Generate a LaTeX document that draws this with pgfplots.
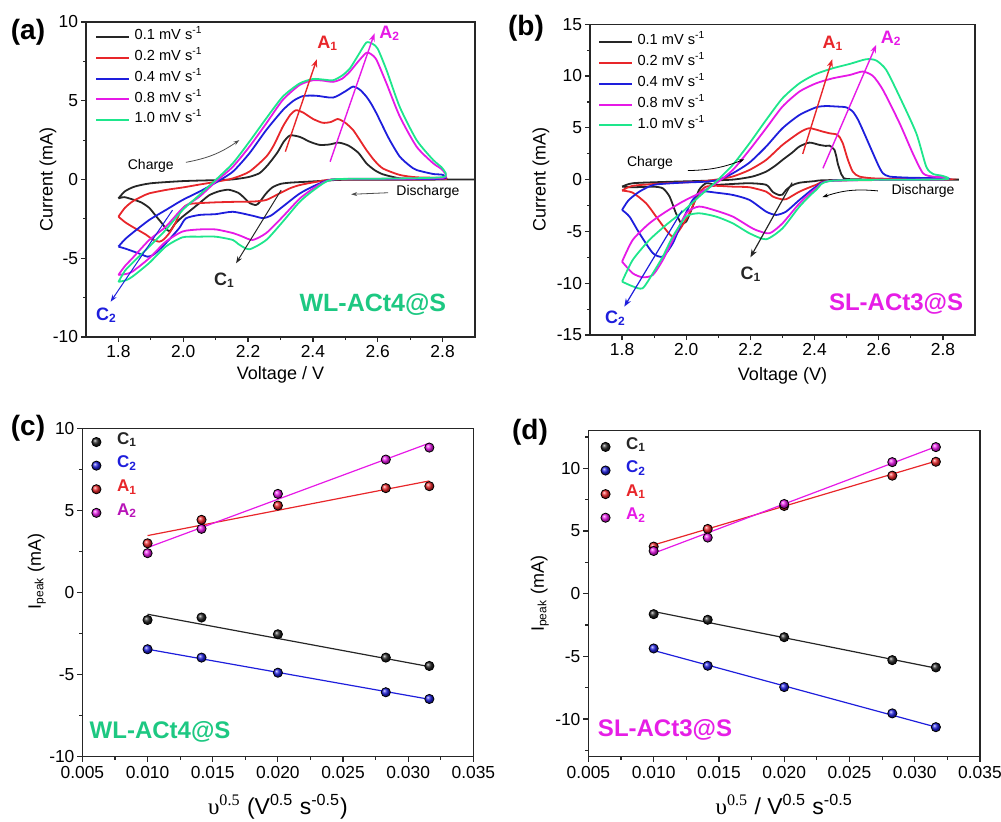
\documentclass[border=0pt]{standalone}
\usepackage{fontspec}
\setmainfont{Liberation Sans}
\newfontfamily\seriffont{Liberation Serif}
\usepackage{pgfplots}
\pgfplotsset{compat=1.18}
\usetikzlibrary{arrows.meta}
\definecolor{cK}{HTML}{262626}
\definecolor{cR}{HTML}{E8262A}
\definecolor{cB}{HTML}{1E1EDC}
\definecolor{cM}{HTML}{E619E6}
\definecolor{cG}{HTML}{1EE68C}
\definecolor{cGT}{HTML}{1DC882}
\definecolor{cMT}{HTML}{E61EE6}
\pgfplotsset{
  panel/.style={
    scale only axis, anchor=south west,
    axis line style={black!85, line width=0.6pt},
    tick align=outside, xtick pos=bottom, ytick pos=left,
    major tick length=2.6pt, minor tick length=1.5pt,
    tick style={black!85, line width=0.6pt},
    minor x tick num=1, minor y tick num=1,
    scaled x ticks=false, scaled y ticks=false,
    tick label style={font=\fontsize{8.7}{10}\selectfont, inner sep=1.2pt},
    label style={font=\fontsize{9}{11}\selectfont},
  },
  cv/.style={smooth, tension=0.4, line width=0.9pt, no markers},
  cvlegend/.style={
    legend style={draw=none, fill=none, inner sep=0pt, anchor=north west,
      font=\fontsize{7.3}{8}\selectfont, row sep=0pt, column sep=2.2pt,
      nodes={inner sep=0pt, text height=6.3pt, text depth=4.1pt}},
    legend cell align=left,
    legend image code/.code={\draw[##1, line width=1pt] (0pt,0.25pt) -- (16.5pt,0.25pt);},
  },
  pklegend/.style={
    legend style={draw=none, fill=none, inner sep=0pt, anchor=north west,
      font=\bfseries\fontsize{8.5}{9}\selectfont, row sep=0pt, column sep=7.8pt,
      nodes={inner sep=0pt, text height=7pt, text depth=4.8pt}},
    legend cell align=left,
    legend image code/.code={\draw[##1] plot coordinates {(0pt,0pt)};},
  },
  pts/.style={only marks, mark=ball, ball color=#1, mark size=2.3pt},
  fit/.style={#1, line width=0.6pt, no markers, forget plot},
}
\begin{document}
\begin{tikzpicture}
\useasboundingbox (0,0) rectangle (500.5pt,410.5pt);
% ---------------- (a)
\begin{axis}[panel, cvlegend, at={(43pt,242pt)}, width=194.5pt, height=157.5pt,
  xmin=1.7, xmax=2.9, ymin=-10, ymax=10,
  xtick={1.8,2.0,2.2,2.4,2.6,2.8}, xticklabels={1.8,2.0,2.2,2.4,2.6,2.8},
  ytick={-10,-5,0,5,10}, yticklabels={-10,-5,0,5,10},
  xlabel={Voltage / V}, ylabel={Current (mA)},
  xlabel shift={0pt}, ylabel shift={-6.5pt},
  legend style={at={(axis description cs:0.023,0.985)}}]
\addplot[cv, cK] coordinates {(1.80,-1.2) (1.82,-0.75) (1.85,-0.45) (1.9,-0.24) (2.0,-0.1) (2.1,-0.04) (2.15,0) (2.2,0.15) (2.235,0.4) (2.26,0.9) (2.29,1.7) (2.31,2.4) (2.33,2.8) (2.36,2.7) (2.39,2.4) (2.42,2.2) (2.45,2.22) (2.48,2.34) (2.51,2.15) (2.54,1.7) (2.565,1.03) (2.59,0.6) (2.616,0.33) (2.67,0.07) (2.75,0.01) (2.9,0) (2.5,-0.02) (2.46,-0.05) (2.4,-0.12) (2.33,-0.2) (2.3,-0.28) (2.275,-0.5) (2.255,-0.9) (2.235,-1.45) (2.224,-1.62) (2.205,-1.5) (2.19,-1.2) (2.17,-0.85) (2.14,-0.65) (2.11,-0.75) (2.08,-1.0) (2.05,-1.5) (2.02,-2.0) (1.998,-2.36) (1.975,-2.8) (1.96,-3.25) (1.95,-3.2) (1.935,-2.8) (1.915,-2.3) (1.895,-1.8) (1.87,-1.45) (1.843,-1.26) (1.818,-1.12) (1.80,-1.2)};
\addlegendentry{0.1 mV s\textsuperscript{-1}}
\addplot[cv, cR] coordinates {(1.8,-2.36) (1.82,-1.8) (1.843,-1.4) (1.87,-1.1) (1.895,-0.88) (1.95,-0.65) (2.0,-0.5) (2.05,-0.32) (2.1,-0.15) (2.153,0.07) (2.204,0.5) (2.256,1.45) (2.28,2.2) (2.307,3.35) (2.33,4.1) (2.348,4.4) (2.37,4.25) (2.4,3.85) (2.43,3.6) (2.455,3.65) (2.477,3.84) (2.5,3.6) (2.524,3.14) (2.545,2.5) (2.565,1.87) (2.59,1.2) (2.616,0.7) (2.668,0.29) (2.72,0.14) (2.8,0.1) (2.8,0.02) (2.6,0.0) (2.46,0) (2.41,-0.15) (2.36,-0.35) (2.33,-0.55) (2.297,-0.88) (2.256,-1.3) (2.214,-1.4) (2.153,-1.42) (2.1,-1.45) (2.05,-1.5) (2.02,-1.55) (2.005,-1.7) (1.99,-2.1) (1.975,-2.8) (1.957,-3.4) (1.94,-3.8) (1.926,-3.95) (1.905,-3.8) (1.885,-3.5) (1.843,-3.0) (1.82,-2.7) (1.8,-2.36)};
\addlegendentry{0.2 mV s\textsuperscript{-1}}
\addplot[cv, cB] coordinates {(1.8,-4.26) (1.82,-3.8) (1.843,-3.4) (1.895,-2.57) (1.946,-1.94) (1.998,-1.3) (2.05,-0.77) (2.1,-0.2) (2.153,0.5) (2.204,1.66) (2.256,3.14) (2.307,4.4) (2.34,5.0) (2.37,5.3) (2.41,5.32) (2.462,5.2) (2.5,5.6) (2.524,5.9) (2.545,5.7) (2.565,5.26) (2.58,4.8) (2.596,4.2) (2.615,3.4) (2.637,2.5) (2.668,1.45) (2.7,0.85) (2.72,0.6) (2.771,0.35) (2.8,0.3) (2.8,0.05) (2.6,0.02) (2.46,0) (2.41,-0.35) (2.36,-0.88) (2.307,-1.72) (2.27,-2.3) (2.245,-2.45) (2.214,-2.3) (2.153,-2.05) (2.1,-2.2) (2.05,-2.25) (2.008,-2.47) (1.987,-3.1) (1.946,-4.05) (1.91,-4.75) (1.89,-4.9) (1.864,-4.7) (1.823,-4.4) (1.8,-4.26)};
\addlegendentry{0.4 mV s\textsuperscript{-1}}
\addplot[cv, cM] coordinates {(1.8,-6.06) (1.82,-5.5) (1.843,-5.0) (1.895,-3.84) (1.946,-3.0) (1.998,-1.83) (2.05,-1.09) (2.1,-0.14) (2.153,0.81) (2.204,2.08) (2.256,3.56) (2.307,5.05) (2.359,6.0) (2.4,6.3) (2.43,6.28) (2.462,6.2) (2.49,6.4) (2.514,6.85) (2.54,7.5) (2.565,8.05) (2.58,7.95) (2.596,7.6) (2.627,6.1) (2.668,4.0) (2.72,2.08) (2.771,1.03) (2.8,0.6) (2.8,0.1) (2.6,0.05) (2.46,0) (2.41,-0.45) (2.36,-1.2) (2.307,-2.36) (2.256,-3.4) (2.214,-3.84) (2.18,-3.6) (2.153,-3.4) (2.1,-3.17) (2.05,-3.17) (1.998,-3.3) (1.946,-3.95) (1.895,-5.0) (1.843,-5.85) (1.823,-6.0) (1.8,-6.06)};
\addlegendentry{0.8 mV s\textsuperscript{-1}}
\addplot[cv, cG] coordinates {(1.8,-6.5) (1.82,-5.8) (1.843,-5.3) (1.895,-4.26) (1.946,-3.2) (1.998,-1.94) (2.05,-0.98) (2.1,-0.03) (2.153,1.03) (2.204,2.4) (2.256,3.88) (2.307,5.26) (2.359,6.1) (2.4,6.38) (2.43,6.35) (2.462,6.3) (2.49,6.6) (2.514,7.05) (2.54,7.9) (2.565,8.7) (2.585,8.6) (2.6,8.3) (2.627,6.95) (2.668,4.6) (2.72,2.5) (2.771,1.24) (2.8,0.7) (2.8,0.15) (2.6,0.05) (2.46,0) (2.41,-0.56) (2.36,-1.4) (2.307,-2.68) (2.256,-3.84) (2.204,-4.43) (2.17,-4.1) (2.153,-3.84) (2.1,-3.63) (2.05,-3.63) (1.998,-3.67) (1.946,-4.26) (1.895,-5.3) (1.843,-6.17) (1.823,-6.4) (1.8,-6.5)};
\addlegendentry{1.0 mV s\textsuperscript{-1}}
\draw[cR, line width=0.7pt, -{Stealth[length=4pt,width=3pt]}] (2.315,1.77) -- (2.412,7.63);
\node[cR, font=\bfseries\fontsize{9}{10}\selectfont] at (2.446,8.64) {A\textsubscript{1}};
\draw[cM, line width=0.7pt, -{Stealth[length=4pt,width=3pt]}] (2.453,1.13) -- (2.59,9.28);
\node[cM, font=\bfseries\fontsize{9}{10}\selectfont] at (2.637,9.28) {A\textsubscript{2}};
\draw[cK, line width=0.5pt, -{Stealth[length=3.5pt,width=2.5pt]}] (2.302,-0.67) -- (2.163,-5.32);
\node[cK, font=\bfseries\fontsize{9}{10}\selectfont] at (2.127,-6.38) {C\textsubscript{1}};
\draw[cB, line width=0.5pt, -{Stealth[length=3.5pt,width=2.5pt]}] (1.967,-1.94) -- (1.776,-7.76);
\node[cB, font=\bfseries\fontsize{9}{10}\selectfont] at (1.763,-8.6) {C\textsubscript{2}};
\node[font=\fontsize{7}{8}\selectfont] at (1.9,0.88) {Charge};
\draw[black!70, line width=0.4pt, -{Stealth[length=3pt,width=2pt]}] (2.008,1.09) to[bend right=12] (2.173,2.5);
\node[font=\fontsize{7}{8}\selectfont] at (2.755,-0.81) {Discharge};
\draw[black!70, line width=0.4pt, -{Stealth[length=3pt,width=2pt]}] (2.632,-0.84) -- (2.518,-0.94);
\node[cGT, font=\bfseries\fontsize{12.5}{14}\selectfont] at (2.585,-7.97) {WL-ACt4@S};
\end{axis}
% ---------------- (b)
\begin{axis}[panel, cvlegend, at={(295pt,243pt)}, width=192.5pt, height=155.4pt,
  xmin=1.7, xmax=2.9, ymin=-15, ymax=15,
  xtick={1.8,2.0,2.2,2.4,2.6,2.8}, xticklabels={1.8,2.0,2.2,2.4,2.6,2.8},
  ytick={-15,-10,-5,0,5,10,15}, yticklabels={-15,-10,-5,0,5,10,15},
  xlabel={Voltage (V)}, ylabel={Current (mA)},
  xlabel shift={1.5pt}, ylabel shift={-1pt},
  legend style={at={(axis description cs:0.02,0.975)}}]
\addplot[cv, cK] coordinates {(1.8,-0.68) (1.833,-0.35) (1.937,-0.22) (2.04,-0.13) (2.145,0) (2.207,0.3) (2.249,0.77) (2.28,1.4) (2.3,1.9) (2.33,2.6) (2.353,3.2) (2.384,3.57) (2.415,3.35) (2.435,3.25) (2.446,3.28) (2.455,3.1) (2.462,2.86) (2.468,2.2) (2.472,1.58) (2.48,0.8) (2.488,0.29) (2.52,0.03) (2.85,0) (2.45,-0.05) (2.4,-0.15) (2.353,-0.3) (2.33,-0.55) (2.311,-1.0) (2.3,-1.45) (2.29,-1.5) (2.27,-1.2) (2.249,-0.5) (2.197,-0.35) (2.145,-0.42) (2.093,-0.5) (2.062,-0.35) (2.04,-1.0) (2.02,-2.6) (2.0,-4.05) (1.984,-4.2) (1.968,-3.25) (1.948,-1.64) (1.927,-0.84) (1.896,-0.68) (1.833,-0.74) (1.8,-0.68)};
\addlegendentry{0.1 mV s\textsuperscript{-1}}
\addplot[cv, cR] coordinates {(1.8,-1.06) (1.833,-0.6) (1.937,-0.35) (2.04,-0.2) (2.093,0) (2.145,0.3) (2.197,0.93) (2.249,1.9) (2.3,3.35) (2.353,4.54) (2.384,4.96) (2.426,4.63) (2.45,4.45) (2.467,4.38) (2.478,4.1) (2.488,3.5) (2.496,2.7) (2.504,1.9) (2.519,0.77) (2.54,0.29) (2.6,0.1) (2.8,0.06) (2.8,0) (2.457,-0.1) (2.405,-0.5) (2.353,-1.16) (2.311,-1.9) (2.29,-1.85) (2.27,-1.64) (2.249,-1.16) (2.197,-0.74) (2.145,-0.68) (2.093,-0.6) (2.06,-0.7) (2.04,-1.32) (2.025,-2.2) (2.01,-3.25) (1.979,-4.86) (1.958,-5.5) (1.937,-4.86) (1.906,-3.57) (1.875,-2.29) (1.833,-1.26) (1.8,-1.06)};
\addlegendentry{0.2 mV s\textsuperscript{-1}}
\addplot[cv, cB] coordinates {(1.8,-2.93) (1.82,-2.0) (1.854,-1.16) (1.9,-0.5) (1.989,-0.29) (2.062,-0.2) (2.103,0) (2.145,0.61) (2.197,1.64) (2.249,3.19) (2.3,4.96) (2.353,6.24) (2.405,6.98) (2.436,7.1) (2.47,7.05) (2.498,6.98) (2.519,6.57) (2.535,5.8) (2.55,4.8) (2.582,2.54) (2.6,1.3) (2.613,0.61) (2.634,0.29) (2.7,0.18) (2.8,0.13) (2.8,0.02) (2.457,-0.1) (2.405,-0.68) (2.353,-1.96) (2.311,-3.09) (2.28,-3.41) (2.249,-3.09) (2.197,-1.96) (2.145,-1.48) (2.093,-1.26) (2.05,-1.16) (2.02,-1.96) (1.989,-3.9) (1.958,-6.15) (1.927,-7.43) (1.896,-7.1) (1.854,-5.18) (1.823,-3.57) (1.8,-2.93)};
\addlegendentry{0.4 mV s\textsuperscript{-1}}
\addplot[cv, cM] coordinates {(1.8,-7.92) (1.833,-5.83) (1.885,-4.22) (1.937,-3.09) (1.989,-2.12) (2.04,-1.32) (2.093,-0.35) (2.145,0.93) (2.197,2.86) (2.249,4.96) (2.3,7.05) (2.353,8.5) (2.405,9.3) (2.457,9.78) (2.51,10.1) (2.55,10.43) (2.582,10.0) (2.613,8.66) (2.665,5.44) (2.706,2.54) (2.738,0.61) (2.769,0.29) (2.8,0.23) (2.8,0.02) (2.457,-0.1) (2.405,-0.84) (2.353,-2.29) (2.3,-4.22) (2.26,-5.18) (2.22,-4.9) (2.197,-4.54) (2.145,-3.57) (2.093,-3.0) (2.04,-2.6) (2.0,-3.25) (1.958,-5.83) (1.927,-7.76) (1.896,-9.2) (1.864,-9.43) (1.833,-9.04) (1.8,-7.92)};
\addlegendentry{0.8 mV s\textsuperscript{-1}}
\addplot[cv, cG] coordinates {(1.8,-9.85) (1.833,-7.76) (1.885,-5.83) (1.937,-4.38) (1.989,-3.09) (2.04,-1.64) (2.093,-0.19) (2.145,1.42) (2.197,3.5) (2.249,5.76) (2.3,7.85) (2.353,9.3) (2.405,10.2) (2.457,10.75) (2.51,11.17) (2.561,11.62) (2.592,11.5) (2.623,10.6) (2.665,8.0) (2.717,4.47) (2.748,1.25) (2.769,0.55) (2.8,0.35) (2.8,0.02) (2.457,-0.1) (2.405,-1.0) (2.353,-2.6) (2.3,-4.7) (2.249,-5.76) (2.197,-5.18) (2.145,-4.22) (2.093,-3.57) (2.04,-3.25) (2.0,-3.57) (1.958,-5.5) (1.927,-7.43) (1.896,-9.04) (1.864,-10.49) (1.833,-10.3) (1.8,-9.85)};
\addlegendentry{1.0 mV s\textsuperscript{-1}}
\draw[cR, line width=0.7pt, -{Stealth[length=4pt,width=3pt]}] (2.363,2.48) -- (2.455,11.62);
\node[cR, font=\bfseries\fontsize{9}{10}\selectfont] at (2.457,13.16) {A\textsubscript{1}};
\draw[cM, line width=0.7pt, -{Stealth[length=4pt,width=3pt]}] (2.426,1.09) -- (2.592,13.0);
\node[cM, font=\bfseries\fontsize{9}{10}\selectfont] at (2.639,13.65) {A\textsubscript{2}};
\draw[cK, line width=0.6pt, -{Stealth[length=4pt,width=3pt]}] (2.33,-0.29) -- (2.2,-7.5);
\node[cK, font=\bfseries\fontsize{9}{10}\selectfont] at (2.202,-9.1) {C\textsubscript{1}};
\draw[cB, line width=0.6pt, -{Stealth[length=4pt,width=3pt]}] (1.987,-3.0) -- (1.807,-12.26);
\node[cB, font=\bfseries\fontsize{9}{10}\selectfont] at (1.779,-13.4) {C\textsubscript{2}};
\node[font=\fontsize{7}{8}\selectfont] at (1.887,1.58) {Charge};
\draw[black, line width=0.4pt, -{Stealth[length=3pt,width=2pt]}] (2.005,0.87) to[bend right=10] (2.181,1.96);
\node[font=\fontsize{7}{8}\selectfont] at (2.738,-1.13) {Discharge};
\draw[black, line width=0.4pt, -{Stealth[length=3pt,width=2pt]}] (2.597,-1.09) to[bend right=12] (2.424,-1.7);
\node[cMT, font=\bfseries\fontsize{12}{14}\selectfont] at (2.654,-12.0) {SL-ACt3@S};
\end{axis}
% ---------------- (c)
\begin{axis}[panel, pklegend, at={(41.2pt,32.2pt)}, width=195.5pt, height=164.2pt,
  xmin=0.005, xmax=0.035, ymin=-10, ymax=10,
  xtick={0.005,0.010,0.015,0.020,0.025,0.030,0.035},
  xticklabels={0.005,0.010,0.015,0.020,0.025,0.030,0.035},
  xticklabel style={yshift=-1pt},
  ytick={-10,-5,0,5,10}, yticklabels={-10,-5,0,5,10},
  xlabel={{\seriffont υ\textsuperscript{0.5}} (V\textsuperscript{0.5} s\textsuperscript{-0.5})},
  ylabel={I\textsubscript{peak} (mA)},
  xlabel style={font=\fontsize{11.5}{13}\selectfont},
  ylabel style={at={(ticklabel cs:0.565)}},
  xlabel shift={3pt}, ylabel shift={-3pt},
  legend style={at={(axis description cs:0.022,0.995)}}]
\addplot[fit=cK] coordinates {(0.01,-1.33) (0.03162,-4.52)};
\addplot[fit=cB] coordinates {(0.01,-3.46) (0.03162,-6.51)};
\addplot[fit=cR] coordinates {(0.01,3.46) (0.03162,6.79)};
\addplot[fit=cM] coordinates {(0.01,2.73) (0.03162,9.09)};
\addplot[pts=cK] coordinates {(0.01,-1.68) (0.01414,-1.53) (0.02,-2.55) (0.02828,-3.97) (0.03162,-4.48)};
\addlegendentry{\textcolor{cK}{C\textsubscript{1}}}
\addplot[pts=cB] coordinates {(0.01,-3.46) (0.01414,-3.97) (0.02,-4.89) (0.02828,-6.08) (0.03162,-6.49)};
\addlegendentry{\textcolor{cB}{C\textsubscript{2}}}
\addplot[pts=cR] coordinates {(0.01,2.99) (0.01414,4.42) (0.02,5.29) (0.02828,6.35) (0.03162,6.47)};
\addlegendentry{\textcolor{cR}{A\textsubscript{1}}}
\addplot[pts=cM] coordinates {(0.01,2.39) (0.01414,3.87) (0.02,6.0) (0.02828,8.09) (0.03162,8.82)};
\addlegendentry{\textcolor{cM!80!black}{A\textsubscript{2}}}
\node[cGT, font=\bfseries\fontsize{12}{14}\selectfont] at (0.01096,-8.48) {WL-ACt4@S};
\end{axis}
% ---------------- (d)
\begin{axis}[panel, pklegend, at={(294.2pt,32.2pt)}, width=195.8pt, height=162.9pt,
  xmin=0.005, xmax=0.035, ymin=-13, ymax=13,
  xtick={0.005,0.010,0.015,0.020,0.025,0.030,0.035},
  xticklabels={0.005,0.010,0.015,0.020,0.025,0.030,0.035},
  xticklabel style={yshift=-1pt},
  ytick={-10,-5,0,5,10}, yticklabels={-10,-5,0,5,10},
  minor ytick={-12.5,-7.5,-2.5,2.5,7.5,12.5},
  xlabel={{\seriffont υ\textsuperscript{0.5}} / V\textsuperscript{0.5} s\textsuperscript{-0.5}},
  ylabel={I\textsubscript{peak} (mA)},
  xlabel style={font=\fontsize{11.5}{13}\selectfont},
  xlabel shift={3pt}, ylabel shift={-1.5pt},
  legend style={at={(axis description cs:0.03,0.988)}}]
\addplot[fit=cK] coordinates {(0.01,-1.42) (0.03162,-5.94)};
\addplot[fit=cB] coordinates {(0.01,-4.53) (0.03162,-10.64)};
\addplot[fit=cR] coordinates {(0.01,3.89) (0.03162,10.58)};
\addplot[fit=cM] coordinates {(0.01,3.23) (0.03162,11.73)};
\addplot[pts=cK] coordinates {(0.01,-1.63) (0.01414,-2.08) (0.02,-3.47) (0.02828,-5.30) (0.03162,-5.88)};
\addlegendentry{\textcolor{cK}{C\textsubscript{1}}}
\addplot[pts=cB] coordinates {(0.01,-4.37) (0.01414,-5.75) (0.02,-7.45) (0.02828,-9.55) (0.03162,-10.65)};
\addlegendentry{\textcolor{cB}{C\textsubscript{2}}}
\addplot[pts=cR] coordinates {(0.01,3.76) (0.01414,5.17) (0.02,7.0) (0.02828,9.42) (0.03162,10.53)};
\addlegendentry{\textcolor{cR}{A\textsubscript{1}}}
\addplot[pts=cM] coordinates {(0.01,3.41) (0.01414,4.48) (0.02,7.16) (0.02828,10.5) (0.03162,11.7)};
\addlegendentry{\textcolor{cM}{A\textsubscript{2}}}
\node[cMT, font=\bfseries\fontsize{12}{14}\selectfont] at (0.01087,-10.9) {SL-ACt3@S};
\end{axis}
% panel labels
\node[font=\bfseries\fontsize{14}{16}\selectfont] at (14pt,394.5pt) {(a)};
\node[font=\bfseries\fontsize{14}{16}\selectfont] at (263pt,396.5pt) {(b)};
\node[font=\bfseries\fontsize{14}{16}\selectfont] at (14pt,196.5pt) {(c)};
\node[font=\bfseries\fontsize{14}{16}\selectfont] at (265pt,194.5pt) {(d)};
\end{tikzpicture}
\end{document}
